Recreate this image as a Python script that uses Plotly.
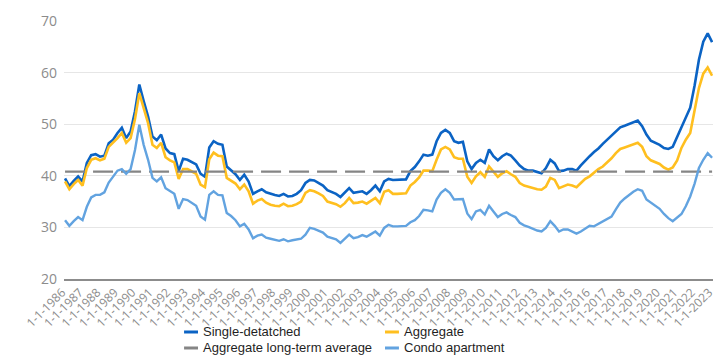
import pandas as pd
import plotly.graph_objects as go

# Quarterly ownership-cost share of household income (%), 1986Q1 - 2023Q1
single_detached = [
    39.5, 38.0, 39.0, 39.9,  # 1986
    38.9, 42.5, 44.0, 44.2,  # 1987
    43.7, 43.9, 46.3, 47.0,  # 1988
    48.3, 49.3, 47.3, 48.6,  # 1989
    52.5, 57.7, 54.5, 51.5,  # 1990
    47.6, 46.9, 48.0, 45.3,  # 1991
    44.4, 44.2, 40.9, 43.3,  # 1992
    43.1, 42.7, 42.2, 40.4,  # 1993
    39.8, 45.5, 46.7, 46.2,  # 1994
    46.0, 41.8, 41.1, 40.3,  # 1995
    39.2, 40.2, 38.9, 36.5,  # 1996
    37.0, 37.4, 36.8, 36.5,  # 1997
    36.3, 36.1, 36.5, 36.0,  # 1998
    36.1, 36.5, 37.2, 38.6,  # 1999
    39.2, 39.1, 38.6, 38.1,  # 2000
    37.2, 36.9, 36.5, 35.9,  # 2001
    36.7, 37.6, 36.7, 36.8,  # 2002
    37.0, 36.5, 37.2, 38.1,  # 2003
    37.0, 38.9, 39.4, 39.2,  # 2004
    39.2, 39.2, 39.3, 40.9,  # 2005
    41.7, 42.8, 44.1, 43.9,  # 2006
    44.1, 46.7, 48.3, 48.9,  # 2007
    48.3, 46.7, 46.4, 46.6,  # 2008
    42.8, 41.3, 42.5, 43.1,  # 2009
    42.5, 45.1, 43.8, 43.0,  # 2010
    43.8, 44.3, 43.9, 43.0,  # 2011
    42.0, 41.3, 41.0, 41.0,  # 2012
    40.7, 40.5, 41.5, 43.1,  # 2013
    42.4, 40.9, 41.0, 41.3,  # 2014
    41.3, 41.0, 42.0, 43.0,  # 2015
    43.8, 44.6, 45.3, 46.2,  # 2016
    47.0, 47.8, 48.7, 49.4,  # 2017
    49.7, 50.0, 50.4, 50.7,  # 2018
    49.6, 48.0, 46.8, 46.4,  # 2019
    46.0, 45.4, 45.2, 45.6,  # 2020
    47.5, 49.3, 51.5, 53.2,  # 2021
    57.5, 62.5, 66.0, 67.6,  # 2022
    65.9,                    # 2023
]

aggregate = [
    38.9, 37.4, 38.4, 39.2,  # 1986
    38.1, 41.5, 43.1, 43.4,  # 1987
    43.0, 43.3, 45.6, 46.4,  # 1988
    47.3, 48.3, 46.4, 47.3,  # 1989
    51.0, 56.0, 53.0, 50.2,  # 1990
    46.0, 45.4, 46.4, 43.6,  # 1991
    43.0, 42.6, 39.4, 41.3,  # 1992
    41.3, 40.9, 40.4, 38.3,  # 1993
    37.8, 43.2, 44.5, 43.9,  # 1994
    43.8, 39.6, 39.1, 38.5,  # 1995
    37.4, 38.3, 37.0, 34.6,  # 1996
    35.2, 35.5, 34.8, 34.4,  # 1997
    34.2, 34.1, 34.6, 34.1,  # 1998
    34.2, 34.5, 35.0, 36.7,  # 1999
    37.2, 37.0, 36.6, 36.1,  # 2000
    35.0, 34.8, 34.5, 34.0,  # 2001
    34.7, 35.7, 34.7, 34.8,  # 2002
    35.0, 34.6, 35.2, 35.7,  # 2003
    34.7, 36.9, 37.2, 36.5,  # 2004
    36.5, 36.5, 36.6, 38.1,  # 2005
    38.8, 39.7, 41.0, 41.0,  # 2006
    40.9, 43.1, 45.1, 45.6,  # 2007
    45.1, 43.6, 43.3, 43.3,  # 2008
    39.8, 38.6, 39.9, 40.7,  # 2009
    39.8, 41.8, 40.9, 39.8,  # 2010
    40.5, 40.9, 40.3, 39.8,  # 2011
    38.6, 38.1, 37.9, 37.6,  # 2012
    37.4, 37.3, 37.9, 39.6,  # 2013
    39.2, 37.6, 37.9, 38.3,  # 2014
    38.1, 37.8, 38.6, 39.4,  # 2015
    39.9, 40.7, 41.3, 41.8,  # 2016
    42.6, 43.4, 44.4, 45.2,  # 2017
    45.5, 45.8, 46.1, 46.4,  # 2018
    45.6, 43.8, 43.0, 42.6,  # 2019
    42.3, 41.6, 41.2, 41.6,  # 2020
    43.0, 45.4, 47.0, 48.3,  # 2021
    52.8, 57.0, 59.8, 61.0,  # 2022
    59.4,                    # 2023
]

condo_apartment = [
    31.4, 30.3, 31.2, 32.0,  # 1986
    31.4, 34.0, 35.8, 36.3,  # 1987
    36.3, 36.8, 38.7, 39.8,  # 1988
    41.0, 41.3, 40.4, 41.3,  # 1989
    45.0, 49.9, 46.0, 43.1,  # 1990
    39.6, 38.9, 39.7, 37.6,  # 1991
    37.0, 36.5, 33.6, 35.5,  # 1992
    35.3, 34.7, 34.2, 32.1,  # 1993
    31.5, 36.3, 37.0, 36.3,  # 1994
    36.2, 32.8, 32.2, 31.4,  # 1995
    30.2, 30.7, 29.6, 27.9,  # 1996
    28.4, 28.6, 28.0, 27.8,  # 1997
    27.6, 27.4, 27.7, 27.3,  # 1998
    27.5, 27.6, 27.8, 28.6,  # 1999
    29.9, 29.7, 29.4, 29.0,  # 2000
    28.2, 27.9, 27.7, 27.0,  # 2001
    27.9, 28.6, 27.9, 28.1,  # 2002
    28.5, 28.2, 28.7, 29.2,  # 2003
    28.4, 29.9, 30.5, 30.2,  # 2004
    30.2, 30.2, 30.3, 31.0,  # 2005
    31.4, 32.2, 33.4, 33.3,  # 2006
    33.1, 35.4, 36.7, 37.4,  # 2007
    36.7, 35.4, 35.4, 35.5,  # 2008
    32.7, 31.6, 33.1, 33.4,  # 2009
    32.5, 34.2, 33.1, 32.0,  # 2010
    32.6, 32.9, 32.4, 32.0,  # 2011
    30.9, 30.4, 30.1, 29.7,  # 2012
    29.4, 29.2, 29.9, 31.2,  # 2013
    30.3, 29.2, 29.6, 29.6,  # 2014
    29.2, 28.8, 29.2, 29.8,  # 2015
    30.3, 30.2, 30.7, 31.2,  # 2016
    31.6, 32.1, 33.5, 34.8,  # 2017
    35.6, 36.3, 36.9, 37.4,  # 2018
    37.1, 35.4, 34.8, 34.3,  # 2019
    33.6, 32.6, 31.8, 31.2,  # 2020
    31.9, 32.6, 34.1, 36.0,  # 2021
    38.5, 41.5, 43.1, 44.4,  # 2022
    43.5,                    # 2023
]

aggregate_long_term_average = 40.8

tick_years = list(range(1986, 2024))
tick_labels = [f"1-1-{y}" for y in tick_years]

quarters = pd.date_range("1986-01-01", periods=len(aggregate), freq="QS")
tick_dates = pd.to_datetime([f"{y}-01-01" for y in tick_years])

BLUE = "#0b63c4"
GOLD = "#ffbf1f"
GREY = "#858585"
LIGHT_BLUE = "#62a3e0"

series = [
    ("Single-detatched", single_detached, dict(color=BLUE, width=2.6)),
    ("Aggregate", aggregate, dict(color=GOLD, width=2.6)),
    ("Aggregate long-term average", [aggregate_long_term_average] * len(quarters),
     dict(color=GREY, width=2.2, dash="20px,8px")),
    ("Condo apartment", condo_apartment, dict(color=LIGHT_BLUE, width=2.4)),
]

fig = go.Figure()
for name, values, line in series:
    fig.add_trace(go.Scatter(x=quarters, y=values, name=name, mode="lines", line=line))

# Two-column key below the plot: (column, row) slot for each series
key_slots = [(0, 0), (1, 0), (0, 1), (1, 1)]
key_col_x = [0.185, 0.4946]      # paper x where each sample stroke starts
key_row_y = [-0.2054, -0.2674]   # paper y of each row's centre
sample_len = 0.0215
for (name, _, line), (col, row) in zip(series, key_slots):
    x0 = key_col_x[col]
    y = key_row_y[row]
    fig.add_shape(
        type="line", xref="paper", yref="paper",
        x0=x0, x1=x0 + sample_len, y0=y, y1=y,
        line=dict(color=line["color"], width=3),
    )
    fig.add_annotation(
        xref="paper", yref="paper", x=x0 + sample_len + 0.006, y=y,
        xanchor="left", yanchor="middle", text=name, showarrow=False,
        borderpad=0, font=dict(size=13, color="#1f1f1f"),
    )

fig.update_layout(
    width=717, height=358,
    margin=dict(l=64, r=4, t=21, b=79, autoexpand=False),
    paper_bgcolor="white", plot_bgcolor="white",
    font=dict(family="Liberation Sans, Arial, sans-serif"),
    showlegend=False,
)

fig.update_xaxes(
    type="date",
    range=["1985-12-10", "2023-01-20"],
    tickvals=tick_dates, ticktext=tick_labels, tickangle=-45,
    tickfont=dict(size=12, color="#8c8c8c", family="Open Sans, sans-serif"),
    ticklabeloverflow="allow", ticklabelshift=-3, automargin=False,
    showgrid=False, showline=True, linecolor="#8c8c8c", linewidth=1.5,
    ticks="", zeroline=False,
)
fig.update_yaxes(
    range=[20, 70], tickvals=[20, 30, 40, 50, 60, 70],
    tickfont=dict(size=14, color="#8c8c8c", family="Open Sans, sans-serif"),
    showgrid=True, gridcolor="#e6e6e6", gridwidth=1, automargin=False,
    zeroline=False, showline=False, ticks="", ticklabelstandoff=6,
)

fig.write_html("out.html")
